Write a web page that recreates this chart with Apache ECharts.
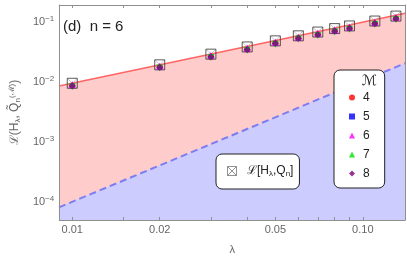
<!DOCTYPE html>
<html><head><meta charset="utf-8">
<script src="https://cdn.jsdelivr.net/npm/echarts@6/dist/echarts.min.js"></script>
<style>html,body{margin:0;padding:0;background:#fff}#c{width:407px;height:261px}</style>
</head><body><div id="c"></div>
<script>
// ---- data ----
const lambdas = [0.01, 0.02, 0.03, 0.04, 0.05, 0.06, 0.07, 0.08, 0.09, 0.11, 0.13];
const lossQn  = [0.0096, 0.0195, 0.0294, 0.0388, 0.0490, 0.0595, 0.0688, 0.0785, 0.0870, 0.105, 0.127];
const lossM4  = [0.0087, 0.0177, 0.0267, 0.0353, 0.0446, 0.0541, 0.0626, 0.0714, 0.0792, 0.0955, 0.1155];
const lossM5  = [0.0087, 0.0177, 0.0267, 0.0353, 0.0446, 0.0541, 0.0626, 0.0714, 0.0792, 0.0955, 0.1155];
const lossM6  = [0.0092, 0.0187, 0.0282, 0.0372, 0.0470, 0.0571, 0.0660, 0.0754, 0.0835, 0.1008, 0.1219];
const lossM7  = [0.0084, 0.0172, 0.0259, 0.0341, 0.0431, 0.0524, 0.0605, 0.0691, 0.0766, 0.0924, 0.1118];
const lossM8  = [0.0087, 0.0177, 0.0267, 0.0353, 0.0446, 0.0541, 0.0626, 0.0714, 0.0792, 0.0955, 0.1155];
const boundLambda = [0.009, 0.14];
const upperBound  = [0.00864, 0.142];
const lowerBound  = [0.0000815, 0.0208];
const xMajorTicks = [0.01, 0.02, 0.05, 0.1];
const xMajorLabels = ['0.01', '0.02', '0.05', '0.10'];
const xMinorTicks = [0.015, 0.03, 0.04, 0.06, 0.07, 0.08, 0.09];
const yMajorTicks = [1e-1, 1e-2, 1e-3, 1e-4];
const yExponents  = ['−1', '−2', '−3', '−4'];
const xRange = [0.00902, 0.1397];
const yRange = [0.0000501, 0.1945];

const L = Math.log10;
const pts = (xs, ys) => xs.map((x, i) => [L(x), L(ys[i])]);
const FONT = 'Liberation Sans';
const AX = '#8f8f8f';

const xLabelMap = {};
xMajorTicks.forEach((v, i) => { xLabelMap[L(v).toFixed(4)] = xMajorLabels[i]; });
const yLabelMap = {};
yMajorTicks.forEach((v, i) => { yLabelMap[L(v).toFixed(4)] = yExponents[i]; });

const xBase = {
  type: 'value', min: L(xRange[0]), max: L(xRange[1]), z: 5,
  axisLine: { show: true, lineStyle: { color: AX, width: 1 } },
  splitLine: { show: false },
  axisTick: { show: true, inside: true, length: 3, lineStyle: { color: AX },
    customValues: xMajorTicks.concat(xMinorTicks).map(L) }
};
const yBase = {
  type: 'value', min: L(yRange[0]), max: L(yRange[1]), z: 5,
  axisLine: { show: true, lineStyle: { color: AX, width: 1 } },
  splitLine: { show: false },
  axisTick: { show: false }
};

const chart = echarts.init(document.getElementById('c'), null, { renderer: 'canvas' });
chart.setOption({
  animation: false,
  backgroundColor: '#fff',
  textStyle: { fontFamily: FONT },
  grid: { left: 55, right: 2, top: 5, bottom: 41 },
  xAxis: [
    Object.assign({}, xBase, {
      position: 'bottom',
      name: 'λ', nameLocation: 'middle', nameGap: 24,
      nameTextStyle: { fontSize: 11, color: '#666', fontFamily: FONT },
      axisLabel: { show: true, margin: 4, fontSize: 11, color: '#666', fontFamily: FONT,
        customValues: xMajorTicks.map(L),
        formatter: v => xLabelMap[v.toFixed(4)] || '' }
    }),
    Object.assign({}, xBase, { position: 'top', axisLabel: { show: false } })
  ],
  yAxis: [
    Object.assign({}, yBase, {
      position: 'left',
      name: '{t|ℒ(H}{s|λ}{t|, Q̃}{s|n}{p|(ℳ)}{t|)}',
      nameLocation: 'middle', nameGap: 35, nameRotate: 90,
      nameTextStyle: { color: '#666', fontFamily: FONT,
        rich: {
          t: { fontSize: 12, color: '#666', fontFamily: FONT },
          s: { fontSize: 8, color: '#666', fontFamily: FONT, padding: [6, 0, 0, 0] },
          p: { fontSize: 8, color: '#666', fontFamily: FONT, padding: [0, 0, 6, 0] }
        } },
      axisLabel: { show: true, margin: 5, color: '#666', fontFamily: FONT,
        customValues: yMajorTicks.map(L),
        formatter: v => '{b|10}{e|' + (yLabelMap[v.toFixed(4)] || '') + '}',
        rich: {
          b: { fontSize: 11, color: '#666', fontFamily: FONT },
          e: { fontSize: 8, color: '#666', fontFamily: FONT, padding: [0, 0, 7, 0] }
        } }
    }),
    Object.assign({}, yBase, { position: 'right', axisLabel: { show: false } })
  ],
  legend: [
    {
      data: [{ name: 'L', icon: 'path://M0,0H10V10H0ZM0,0L10,10M10,0L0,10' }],
      left: 216, top: 154, orient: 'horizontal',
      padding: [11, 6, 11, 11],
      itemWidth: 20, itemHeight: 9,
      backgroundColor: '#fff', borderColor: '#222', borderWidth: 1, borderRadius: 6,
      itemStyle: { color: 'rgba(0,0,0,0)', borderColor: '#777', borderWidth: 1 },
      formatter: () => '{t|ℒ[H}{s|λ}{t|,Q}{s|n}{t|]}',
      textStyle: { color: '#222', fontFamily: FONT,
        rich: {
          t: { fontSize: 12, color: '#222', fontFamily: FONT },
          s: { fontSize: 8, color: '#222', fontFamily: FONT, padding: [6, 0, 0, 0] }
        } },
      selectedMode: false
    },
    {
      data: ['4', '5', '6', '7', '8'],
      left: 334, top: 70, orient: 'vertical',
      padding: [18, 15, 5, 15],
      itemWidth: 6, itemHeight: 6, itemGap: 0,
      backgroundColor: '#fff', borderColor: '#222', borderWidth: 1, borderRadius: 6,
      textStyle: { fontSize: 12, color: '#222', lineHeight: 19, fontFamily: FONT, padding: [0, 0, 0, 3] },
      selectedMode: false
    }
  ],
  graphic: [
    { type: 'text', x: 63, y: 27, z: 100,
      style: { text: '(d)  n = 6', fontSize: 15, fill: '#222', fontFamily: FONT, verticalAlign: 'middle' } },
    { type: 'text', left: 362, top: 74, z: 100,
      style: { text: 'ℳ', fontSize: 14, fill: '#222', fontFamily: 'DejaVu Sans' } }
  ],
  series: [
    { type: 'line', name: 'upper', data: pts(boundLambda, upperBound), symbol: 'none',
      lineStyle: { color: '#ff6464', width: 1.5 },
      areaStyle: { color: '#ffcccc', opacity: 1, origin: 'start' }, z: 1 },
    { type: 'line', name: 'lower', data: pts(boundLambda, lowerBound), symbol: 'none',
      lineStyle: { color: '#7d7df0', width: 2, type: [7, 4] },
      areaStyle: { color: '#ccccff', opacity: 1, origin: 'start' }, z: 1 },
    { type: 'scatter', name: 'Lx', data: pts(lambdas, lossQn),
      symbol: 'path://M0,0L10,10M10,0L0,10', symbolSize: 10,
      itemStyle: { color: 'rgba(0,0,0,0)', borderColor: '#a0a0a0', borderWidth: 0.8 }, z: 3 },
    { type: 'scatter', name: 'L', data: pts(lambdas, lossQn),
      symbol: 'path://M0,0H10V10H0Z', symbolSize: 10,
      itemStyle: { color: 'rgba(0,0,0,0)', borderColor: '#333', borderWidth: 1 }, z: 3 },
    { type: 'scatter', name: '4', data: pts(lambdas, lossM4), symbol: 'circle', symbolSize: 6,
      itemStyle: { color: '#ff0000' }, z: 4 },
    { type: 'scatter', name: '5', data: pts(lambdas, lossM5), symbol: 'rect', symbolSize: 5,
      itemStyle: { color: '#0000ff' }, z: 4 },
    { type: 'scatter', name: '6', data: pts(lambdas, lossM6), symbol: 'triangle', symbolSize: 7,
      itemStyle: { color: '#ff00ff' }, z: 4 },
    { type: 'scatter', name: '7', data: pts(lambdas, lossM7), symbol: 'triangle', symbolRotate: 180, symbolSize: 7,
      itemStyle: { color: '#00e000' }, z: 4 },
    { type: 'scatter', name: '8', data: pts(lambdas, lossM8), symbol: 'diamond', symbolSize: 7,
      itemStyle: { color: '#800080' }, z: 4 }
  ]
});
</script></body></html>
